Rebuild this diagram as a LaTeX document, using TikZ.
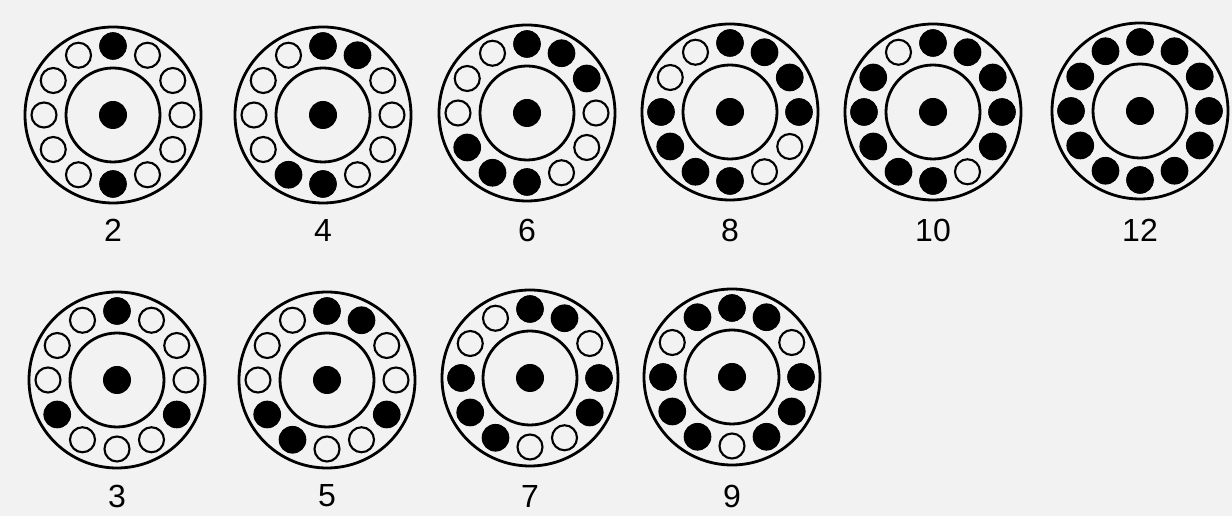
\documentclass[tikz,border=0pt]{standalone}
\usepackage{fontspec}
\setmainfont{Liberation Sans}
\usepackage{tikz}
\usepackage{xcolor}
\usetikzlibrary{calc}
\definecolor{Paper_Grey}{HTML}{F2F2F2}

\tikzset{
  rim/.style={line width=2.8pt},
  hole/.style={line width=2.1pt},
  plug/.style={fill=black},
  wheellabel/.style={font=\fontsize{32}{36}\selectfont},
}

\begin{document}
\begin{tikzpicture}[x=1pt, y=1pt]
% --- Paper background (fixes the margins) ---
\fill[Paper_Grey] (0,0) rectangle (1232,516);
\useasboundingbox (0,0) rectangle (1232,516);
% --- Wheels: centre x / centre y / label y / label / filled positions (deg) ---
\foreach \cx/\cy/\ly/\lab/\filled in {
    113/401/286/2/{90,-90},
    323/401/286/4/{90,60,-90,-120},
    527/403/286/6/{90,60,30,-90,-120,-150},
    730/404/286/8/{90,60,30,0,180,-150,-120,-90},
    933/404/286/10/{90,60,30,0,-30,-90,-120,-150,180,150},
    1140/405/286/12/{0,30,...,330},
    117/136/20/3/{90,-30,-150},
    327/136/20/5/{90,60,-30,-120,-150},
    530/138/20/7/{90,60,0,-30,-120,-150,180},
    732/139/20/9/{90,60,120,0,-30,-60,-120,-150,180}}{
  \begin{scope}[shift={(\cx,\cy)}]
  \draw[rim] (0,0) circle (88);
  \draw[rim] (0,0) circle (47);
  \fill[plug] (0,0) circle (14);
  % Ring of twelve holes, then the filled ones on top
  \foreach \a in {0,30,...,330}
    \draw[hole] (\a:69) circle (12.5);
  \foreach \a in \filled
    \fill[plug] (\a:69) circle (13.8);
  \end{scope}
  \node[wheellabel] (lab\lab) at (\cx,\ly) {\lab};
}
\end{tikzpicture}
\end{document}
